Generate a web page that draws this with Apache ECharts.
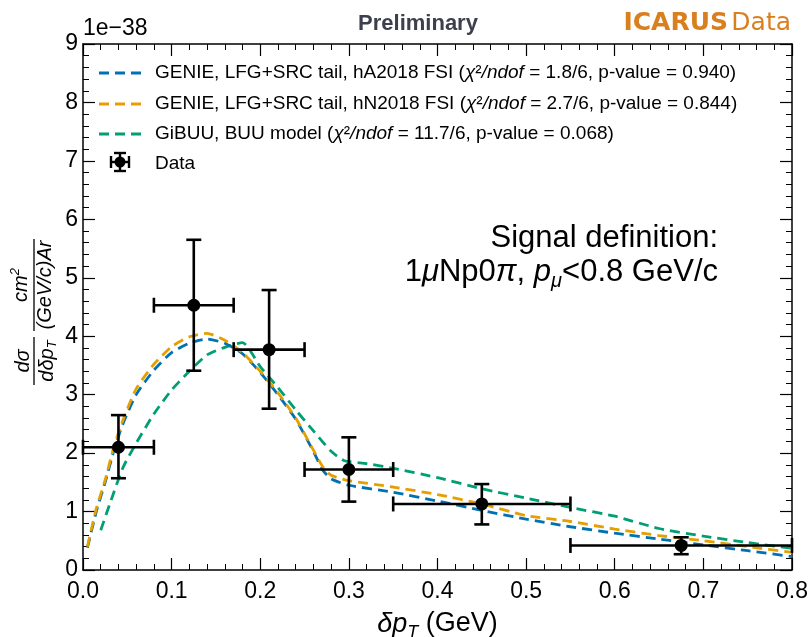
<!DOCTYPE html>
<html>
<head>
<meta charset="utf-8">
<script src="https://cdn.jsdelivr.net/npm/echarts@6/dist/echarts.min.js"></script>
<style>html,body{margin:0;padding:0;background:#fff;}#c{width:810px;height:637px;}</style>
</head>
<body>
<div id="c"></div>
<script>
// ---- data (units of 1e-38 cm^2/(GeV/c)/Ar) ----
const xTicks = [0.0, 0.1, 0.2, 0.3, 0.4, 0.5, 0.6, 0.7, 0.8];
const yTicks = [0, 1, 2, 3, 4, 5, 6, 7, 8, 9];

const dataX   = [0.04, 0.125, 0.21, 0.30, 0.45, 0.675];
const dataY   = [2.10, 4.53, 3.77, 1.72, 1.13, 0.42];
const dataXlo = [0.00, 0.08, 0.17, 0.25, 0.35, 0.55];
const dataXhi = [0.08, 0.17, 0.25, 0.35, 0.55, 0.80];
const dataYlo = [1.57, 3.41, 2.76, 1.17, 0.78, 0.27];
const dataYhi = [2.65, 5.65, 4.79, 2.27, 1.47, 0.56];

const hAx = [0.005, 0.015, 0.025, 0.035, 0.045, 0.06, 0.08, 0.10, 0.12, 0.14, 0.16, 0.18, 0.20, 0.22, 0.24, 0.26, 0.27, 0.28, 0.30, 0.35, 0.40, 0.45, 0.50, 0.55, 0.60, 0.65, 0.70, 0.75, 0.80];
const hAy = [0.38, 1.00, 1.50, 2.05, 2.50, 3.00, 3.42, 3.72, 3.88, 3.95, 3.88, 3.70, 3.38, 3.00, 2.58, 2.03, 1.72, 1.56, 1.45, 1.33, 1.18, 1.02, 0.87, 0.74, 0.63, 0.53, 0.43, 0.33, 0.23];

const hNx = [0.005, 0.015, 0.025, 0.035, 0.045, 0.06, 0.08, 0.10, 0.12, 0.14, 0.16, 0.18, 0.20, 0.22, 0.24, 0.26, 0.27, 0.28, 0.30, 0.35, 0.40, 0.45, 0.50, 0.55, 0.60, 0.65, 0.70, 0.75, 0.80];
const hNy = [0.40, 1.05, 1.54, 2.12, 2.56, 3.10, 3.52, 3.82, 3.99, 4.05, 3.93, 3.72, 3.40, 3.03, 2.60, 2.05, 1.78, 1.62, 1.53, 1.42, 1.29, 1.13, 0.93, 0.83, 0.70, 0.59, 0.50, 0.40, 0.30];

const buuX = [0.02, 0.03, 0.045, 0.06, 0.08, 0.10, 0.12, 0.14, 0.16, 0.18, 0.20, 0.22, 0.24, 0.26, 0.28, 0.295, 0.32, 0.35, 0.40, 0.45, 0.50, 0.55, 0.60, 0.65, 0.70, 0.75, 0.80];
const buuY = [0.68, 1.12, 1.75, 2.17, 2.67, 3.08, 3.40, 3.68, 3.81, 3.89, 3.48, 3.12, 2.74, 2.38, 2.03, 1.87, 1.82, 1.74, 1.58, 1.39, 1.23, 1.07, 0.92, 0.71, 0.58, 0.47, 0.37];

const seriesNames = ['GENIE hA2018', 'GENIE hN2018', 'GiBUU'];
const legendRows = [
  {label: ['GENIE, LFG+SRC tail, hA2018 FSI (', '1.8/6', '0.940'], color: '#0072B2'},
  {label: ['GENIE, LFG+SRC tail, hN2018 FSI (', '2.7/6', '0.844'], color: '#E69F00'},
  {label: ['GiBUU, BUU model (', '11.7/6', '0.068'], color: '#009E73'}
];

const FONT = '"Liberation Sans", Arial, Helvetica, sans-serif';
const zip = (xs, ys) => xs.map((x, i) => [x, ys[i]]);
const errData = dataX.map((x, i) => [x, dataY[i], dataXlo[i], dataXhi[i], dataYlo[i], dataYhi[i]]);

const chart = echarts.init(document.getElementById('c'), null, {renderer: 'canvas'});

const tickCommon = (show) => ({
  axisLine: {show: true, onZero: false, lineStyle: {color: '#000', width: 1.5}},
  axisTick: {show: true, inside: true, length: 12, lineStyle: {color: '#000', width: 1.2}},
  minorTick: {show: true, splitNumber: 5, length: 6, lineStyle: {color: '#000', width: 1}},
  splitLine: {show: false},
  minorSplitLine: {show: false},
  axisLabel: {show: show, color: '#000', fontSize: 23, fontFamily: FONT}
});

function renderErr(params, api) {
  const x = api.value(0), y = api.value(1);
  const pl = api.coord([api.value(2), y]), ph = api.coord([api.value(3), y]);
  const pb = api.coord([x, api.value(4)]), pt = api.coord([x, api.value(5)]);
  const cap = 7.5;
  const st = {stroke: '#000', lineWidth: 2.6};
  const L = (x1, y1, x2, y2) => ({type: 'line', shape: {x1, y1, x2, y2}, style: st});
  return {type: 'group', children: [
    L(pl[0], pl[1], ph[0], ph[1]),
    L(pb[0], pb[1], pt[0], pt[1]),
    L(pt[0] - cap, pt[1], pt[0] + cap, pt[1]),
    L(pb[0] - cap, pb[1], pb[0] + cap, pb[1]),
    L(pl[0], pl[1] - cap, pl[0], pl[1] + cap),
    L(ph[0], ph[1] - cap, ph[0], ph[1] + cap)
  ]};
}

// legend built with graphic elements
const legendGraphics = [];
const rowY = [73, 104, 134];
legendRows.forEach((r, i) => {
  legendGraphics.push({
    type: 'line', shape: {x1: 99, y1: rowY[i], x2: 141, y2: rowY[i]},
    style: {stroke: r.color, lineWidth: 2.8, lineDash: [10, 6]}
  });
  legendGraphics.push({
    type: 'text', x: 155, y: rowY[i],
    style: {
      text: '{n|' + r.label[0] + '}{i|χ}{n|²}{i|/ndof}{n| = ' + r.label[1] + ', p-value = ' + r.label[2] + ')}',
      verticalAlign: 'middle',
      rich: {
        n: {fontSize: 19, fontFamily: FONT, fill: '#000'},
        i: {fontSize: 19, fontFamily: FONT, fontStyle: 'italic', fill: '#000'}
      }
    }
  });
});
// data legend entry
const dcx = 120, dcy = 162;
legendGraphics.push({type: 'group', children: [
  {type: 'line', shape: {x1: dcx, y1: dcy - 9, x2: dcx, y2: dcy + 9}, style: {stroke: '#000', lineWidth: 2.4}},
  {type: 'line', shape: {x1: dcx - 6, y1: dcy - 9, x2: dcx + 6, y2: dcy - 9}, style: {stroke: '#000', lineWidth: 2.4}},
  {type: 'line', shape: {x1: dcx - 6, y1: dcy + 9, x2: dcx + 6, y2: dcy + 9}, style: {stroke: '#000', lineWidth: 2.4}},
  {type: 'line', shape: {x1: dcx - 9, y1: dcy, x2: dcx + 9, y2: dcy}, style: {stroke: '#000', lineWidth: 2.4}},
  {type: 'line', shape: {x1: dcx - 9, y1: dcy - 6, x2: dcx - 9, y2: dcy + 6}, style: {stroke: '#000', lineWidth: 2.4}},
  {type: 'line', shape: {x1: dcx + 9, y1: dcy - 6, x2: dcx + 9, y2: dcy + 6}, style: {stroke: '#000', lineWidth: 2.4}},
  {type: 'circle', shape: {cx: dcx, cy: dcy, r: 5.5}, style: {fill: '#000'}}
]});
legendGraphics.push({type: 'text', x: 155, y: 164, style: {text: 'Data', fontSize: 19, fontFamily: FONT, fill: '#000', verticalAlign: 'middle'}});

const option = {
  animation: false,
  backgroundColor: '#fff',
  grid: {left: 83, right: 18, top: 44, bottom: 67, containLabel: false, outerBoundsMode: 'none'},
  xAxis: [
    Object.assign({
      type: 'value', min: 0, max: 0.8, interval: 0.1, position: 'bottom',
      name: '{i|δp}{sub|T}{n| (GeV)}', nameLocation: 'middle', nameGap: 36,
      nameTextStyle: {rich: {
        i: {fontSize: 27, fontStyle: 'italic', fontFamily: FONT, color: '#000'},
        sub: {fontSize: 18, fontStyle: 'italic', fontFamily: FONT, color: '#000', verticalAlign: 'bottom', lineHeight: 36},
        n: {fontSize: 27, fontFamily: FONT, color: '#000'}
      }}
    }, tickCommon(true), {axisLabel: {show: true, color: '#000', fontSize: 23, fontFamily: FONT, margin: 10, formatter: v => v.toFixed(1)}}),
    Object.assign({type: 'value', min: 0, max: 0.8, interval: 0.1, position: 'top', gridIndex: 0}, tickCommon(false))
  ],
  yAxis: [
    Object.assign({type: 'value', min: 0, max: 9, interval: 1, position: 'left'}, tickCommon(true),
      {axisLabel: {show: true, color: '#000', fontSize: 23, fontFamily: FONT, margin: 5}}),
    Object.assign({type: 'value', min: 0, max: 9, interval: 1, position: 'right'}, tickCommon(false))
  ],
  series: [
    {name: seriesNames[0], type: 'line', data: zip(hAx, hAy), showSymbol: false, symbol: 'none', smooth: 0.2,
     lineStyle: {color: legendRows[0].color, width: 2.8, type: [10, 6]}, z: 3},
    {name: seriesNames[1], type: 'line', data: zip(hNx, hNy), showSymbol: false, symbol: 'none', smooth: 0.2,
     lineStyle: {color: legendRows[1].color, width: 2.8, type: [10, 6]}, z: 4},
    {name: seriesNames[2], type: 'line', data: zip(buuX, buuY), showSymbol: false, symbol: 'none', smooth: 0.2,
     lineStyle: {color: legendRows[2].color, width: 2.8, type: [10, 6]}, z: 2},
    {name: 'Data', type: 'custom', renderItem: renderErr, data: errData, z: 10, clip: false,
     encode: {x: 0, y: 1}},
    {name: 'Data points', type: 'scatter', data: zip(dataX, dataY), symbol: 'circle', symbolSize: 13,
     itemStyle: {color: '#000', opacity: 1}, z: 11}
  ],
  graphic: [
    {type: 'text', x: 418, y: 24, style: {text: 'Preliminary', fontSize: 22, fontWeight: 'bold', fontFamily: FONT, fill: '#3b404c', align: 'center', verticalAlign: 'middle'}},
    {type: 'text', x: 791, y: 23, style: {
      text: '{b|ICARUS} {r|Data}', align: 'right', verticalAlign: 'middle',
      rich: {
        b: {fontSize: 25, fontWeight: 'bold', fontFamily: '"DejaVu Sans", Verdana, sans-serif', fill: '#DA7F1E'},
        r: {fontSize: 25, fontFamily: '"DejaVu Sans", Verdana, sans-serif', fill: '#DA7F1E'}
      }}},
    {type: 'text', x: 83, y: 29, style: {text: '1e\u221238', fontSize: 23, fontFamily: FONT, fill: '#000', verticalAlign: 'middle'}},
    {type: 'text', x: 718, y: 238, style: {
      text: 'Signal definition:', fontSize: 31, fontFamily: FONT, fill: '#000', align: 'right', verticalAlign: 'middle'}},
    {type: 'text', x: 718, y: 272, style: {
      text: '{n|1}{i|μ}{n|Np0}{i|π}{n|, }{i|p}{sub|μ}{n|<0.8 GeV/c}',
      align: 'right', verticalAlign: 'middle',
      rich: {
        n: {fontSize: 31, fontFamily: FONT, fill: '#000', lineHeight: 38},
        i: {fontSize: 31, fontStyle: 'italic', fontFamily: FONT, fill: '#000', lineHeight: 38},
        sub: {fontSize: 20, fontStyle: 'italic', fontFamily: FONT, fill: '#000', lineHeight: 38, verticalAlign: 'bottom'}
      }}},
    // rotated y-axis label: d sigma / d delta p_T   cm^2 / ((GeV/c) Ar)
    {type: 'group', x: 34, y: 311, rotation: Math.PI / 2, children: [
      {type: 'text', x: -50, y: -1, style: {text: 'dσ', fontSize: 20, fontStyle: 'italic', fontFamily: FONT, fill: '#000', align: 'center', verticalAlign: 'bottom'}},
      {type: 'line', shape: {x1: -74, y1: 0, x2: -26, y2: 0}, style: {stroke: '#000', lineWidth: 1.3}},
      {type: 'text', x: -50, y: 1, style: {
        text: '{i|dδp}{sub|T}', align: 'center', verticalAlign: 'top',
        rich: {i: {fontSize: 20, fontStyle: 'italic', fontFamily: FONT, fill: '#000', lineHeight: 24},
               sub: {fontSize: 13, fontStyle: 'italic', fontFamily: FONT, fill: '#000', lineHeight: 24, verticalAlign: 'bottom'}}}},
      {type: 'text', x: 26, y: -1, style: {
        text: '{i|cm}{sup|2}', align: 'center', verticalAlign: 'bottom',
        rich: {i: {fontSize: 20, fontStyle: 'italic', fontFamily: FONT, fill: '#000', lineHeight: 24},
               sup: {fontSize: 13, fontStyle: 'italic', fontFamily: FONT, fill: '#000', lineHeight: 24, verticalAlign: 'top'}}}},
      {type: 'line', shape: {x1: -20, y1: 0, x2: 72, y2: 0}, style: {stroke: '#000', lineWidth: 1.3}},
      {type: 'text', x: 26, y: 1, style: {text: '(GeV/c)Ar', fontSize: 20, fontStyle: 'italic', fontFamily: FONT, fill: '#000', align: 'center', verticalAlign: 'top'}}
    ]}
  ].concat(legendGraphics)
};
chart.setOption(option);
</script>
</body>
</html>
